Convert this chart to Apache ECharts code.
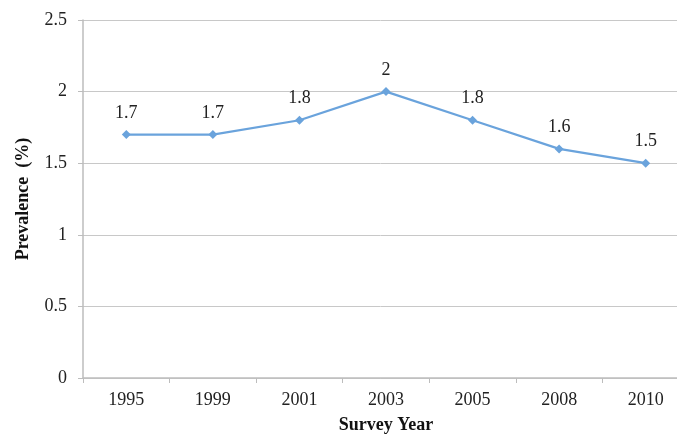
<!DOCTYPE html>
<html>
<head>
<meta charset="utf-8">
<script src="https://cdn.jsdelivr.net/npm/echarts@6/dist/echarts.min.js"></script>
<style>html,body{margin:0;padding:0;background:#fff;overflow:hidden;}#c{width:677px;height:435px;}</style>
</head>
<body>
<div id="c"></div>
<script>
const years = ['1995','1999','2001','2003','2005','2008','2010'];
const prevalence = [1.7, 1.7, 1.8, 2, 1.8, 1.6, 1.5];
const yTicks = { min: 0, max: 2.5, interval: 0.5 };

const chart = echarts.init(document.getElementById('c'));
const font = 'Liberation Serif, Times New Roman, serif';
chart.setOption({
  animation: false,
  grid: { left: 83, top: 20, width: 606, height: 358, containLabel: false, outerBoundsMode: 'none' },
  xAxis: {
    type: 'category', data: years, boundaryGap: true,
    name: 'Survey Year', nameLocation: 'middle', nameGap: 38,
    nameTextStyle: { fontFamily: font, fontWeight: 'bold', fontSize: 18, color: '#111' },
    axisLine: { lineStyle: { color: '#bdbdbd', width: 1.5 } },
    axisTick: { show: true, length: 5, lineStyle: { color: '#bdbdbd' } },
    axisLabel: { fontFamily: font, fontSize: 18, color: '#222', margin: 13 }
  },
  yAxis: {
    type: 'value', min: yTicks.min, max: yTicks.max, interval: yTicks.interval,
    name: 'Prevalence  (%)', nameLocation: 'middle', nameGap: 51, nameRotate: 90,
    nameTextStyle: { fontFamily: font, fontWeight: 'bold', fontSize: 18, color: '#111' },
    axisLine: { show: true, lineStyle: { color: '#bdbdbd', width: 1.5 } },
    axisTick: { show: true, length: 5, lineStyle: { color: '#bdbdbd' } },
    axisLabel: { fontFamily: font, fontSize: 18, color: '#222', margin: 16 },
    splitLine: { lineStyle: { color: '#c8c8c8', width: 1 } }
  },
  series: [{
    type: 'line', data: prevalence,
    symbol: 'diamond', symbolSize: 9,
    lineStyle: { color: '#6aa3dc', width: 2.2 },
    itemStyle: { color: '#6aa3dc' },
    label: { show: true, position: 'top', distance: 8, fontFamily: font, fontSize: 18, color: '#222' }
  }]
});
</script>
</body>
</html>
